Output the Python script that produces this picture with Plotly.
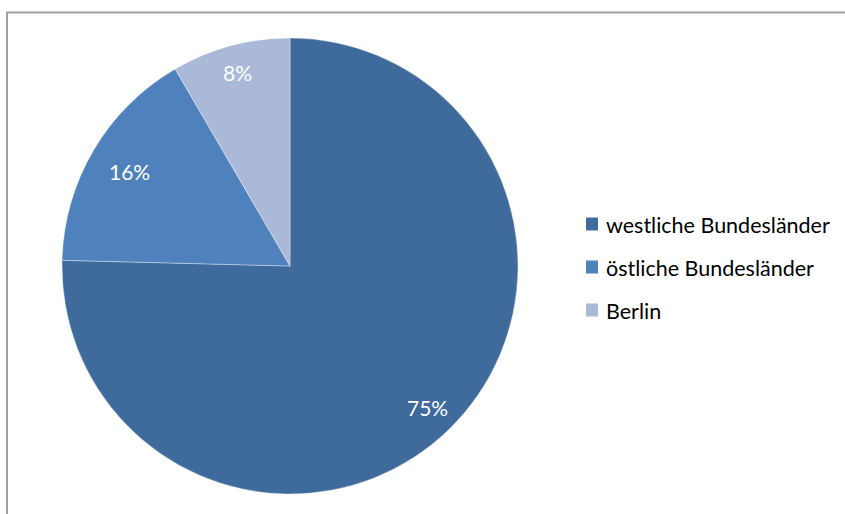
import math
import plotly.graph_objects as go

categories = ["westliche Bundesländer", "östliche Bundesländer", "Berlin"]
values = [75.4, 16.2, 8.4]
colors = ["#3F6A9C", "#4F81BD", "#AAB9D7"]

W, H = 845, 514
FONT = "Lato, Open Sans, sans-serif"

# pie geometry (pixels, page coords)
cx, cy, R = 290, 266, 228
label_r = [0.865, 0.817, 0.877]

fig = go.Figure()
fig.add_trace(go.Pie(
    labels=categories,
    values=values,
    sort=False,
    direction="clockwise",
    rotation=0,
    marker=dict(colors=colors, line=dict(color="rgba(255,255,255,0.6)", width=0.6)),
    textinfo="none",
    domain=dict(x=[(cx - R) / W, (cx + R) / W], y=[1 - (cy + R) / H, 1 - (cy - R) / H]),
    showlegend=False,
    hoverinfo="label+percent",
))

annotations = []
total = sum(values)
start = 0.0
for v, fr in zip(values, label_r):
    frac = v / total
    mid = (start + frac / 2) * 2 * math.pi
    start += frac
    px = cx + fr * R * math.sin(mid)
    py = cy - fr * R * math.cos(mid)
    annotations.append(dict(xref="paper", yref="paper", x=px / W, y=1 - py / H,
                            xanchor="center", yanchor="middle", showarrow=False,
                            text=f"{round(frac * 100)}%",
                            font=dict(family=FONT, size=21, color="white")))

shapes = [dict(type="rect", xref="paper", yref="paper",
               x0=7 / W, y0=-0.05, x1=1.05, y1=1 - 12.5 / H,
               line=dict(color="#A0A0A0", width=2), fillcolor="rgba(0,0,0,0)", layer="below")]
leg_y = [224, 267, 310]
for cat, col, yy in zip(categories, colors, leg_y):
    shapes.append(dict(type="rect", xref="paper", yref="paper",
                       x0=586 / W, x1=598 / W, y0=1 - (yy + 6.5) / H, y1=1 - (yy - 6.5) / H,
                       fillcolor=col, line=dict(width=0)))
    annotations.append(dict(xref="paper", yref="paper", x=604 / W, y=1 - (yy + 1) / H,
                            xanchor="left", yanchor="middle", showarrow=False, text=cat,
                            font=dict(family=FONT, size=21.5, color="black")))

fig.update_layout(
    width=W, height=H,
    margin=dict(l=0, r=0, t=0, b=0),
    paper_bgcolor="white", plot_bgcolor="white",
    shapes=shapes, annotations=annotations,
)
fig.write_html("out.html", config={"displayModeBar": False},
               post_script="document.body.style.margin='0';")
